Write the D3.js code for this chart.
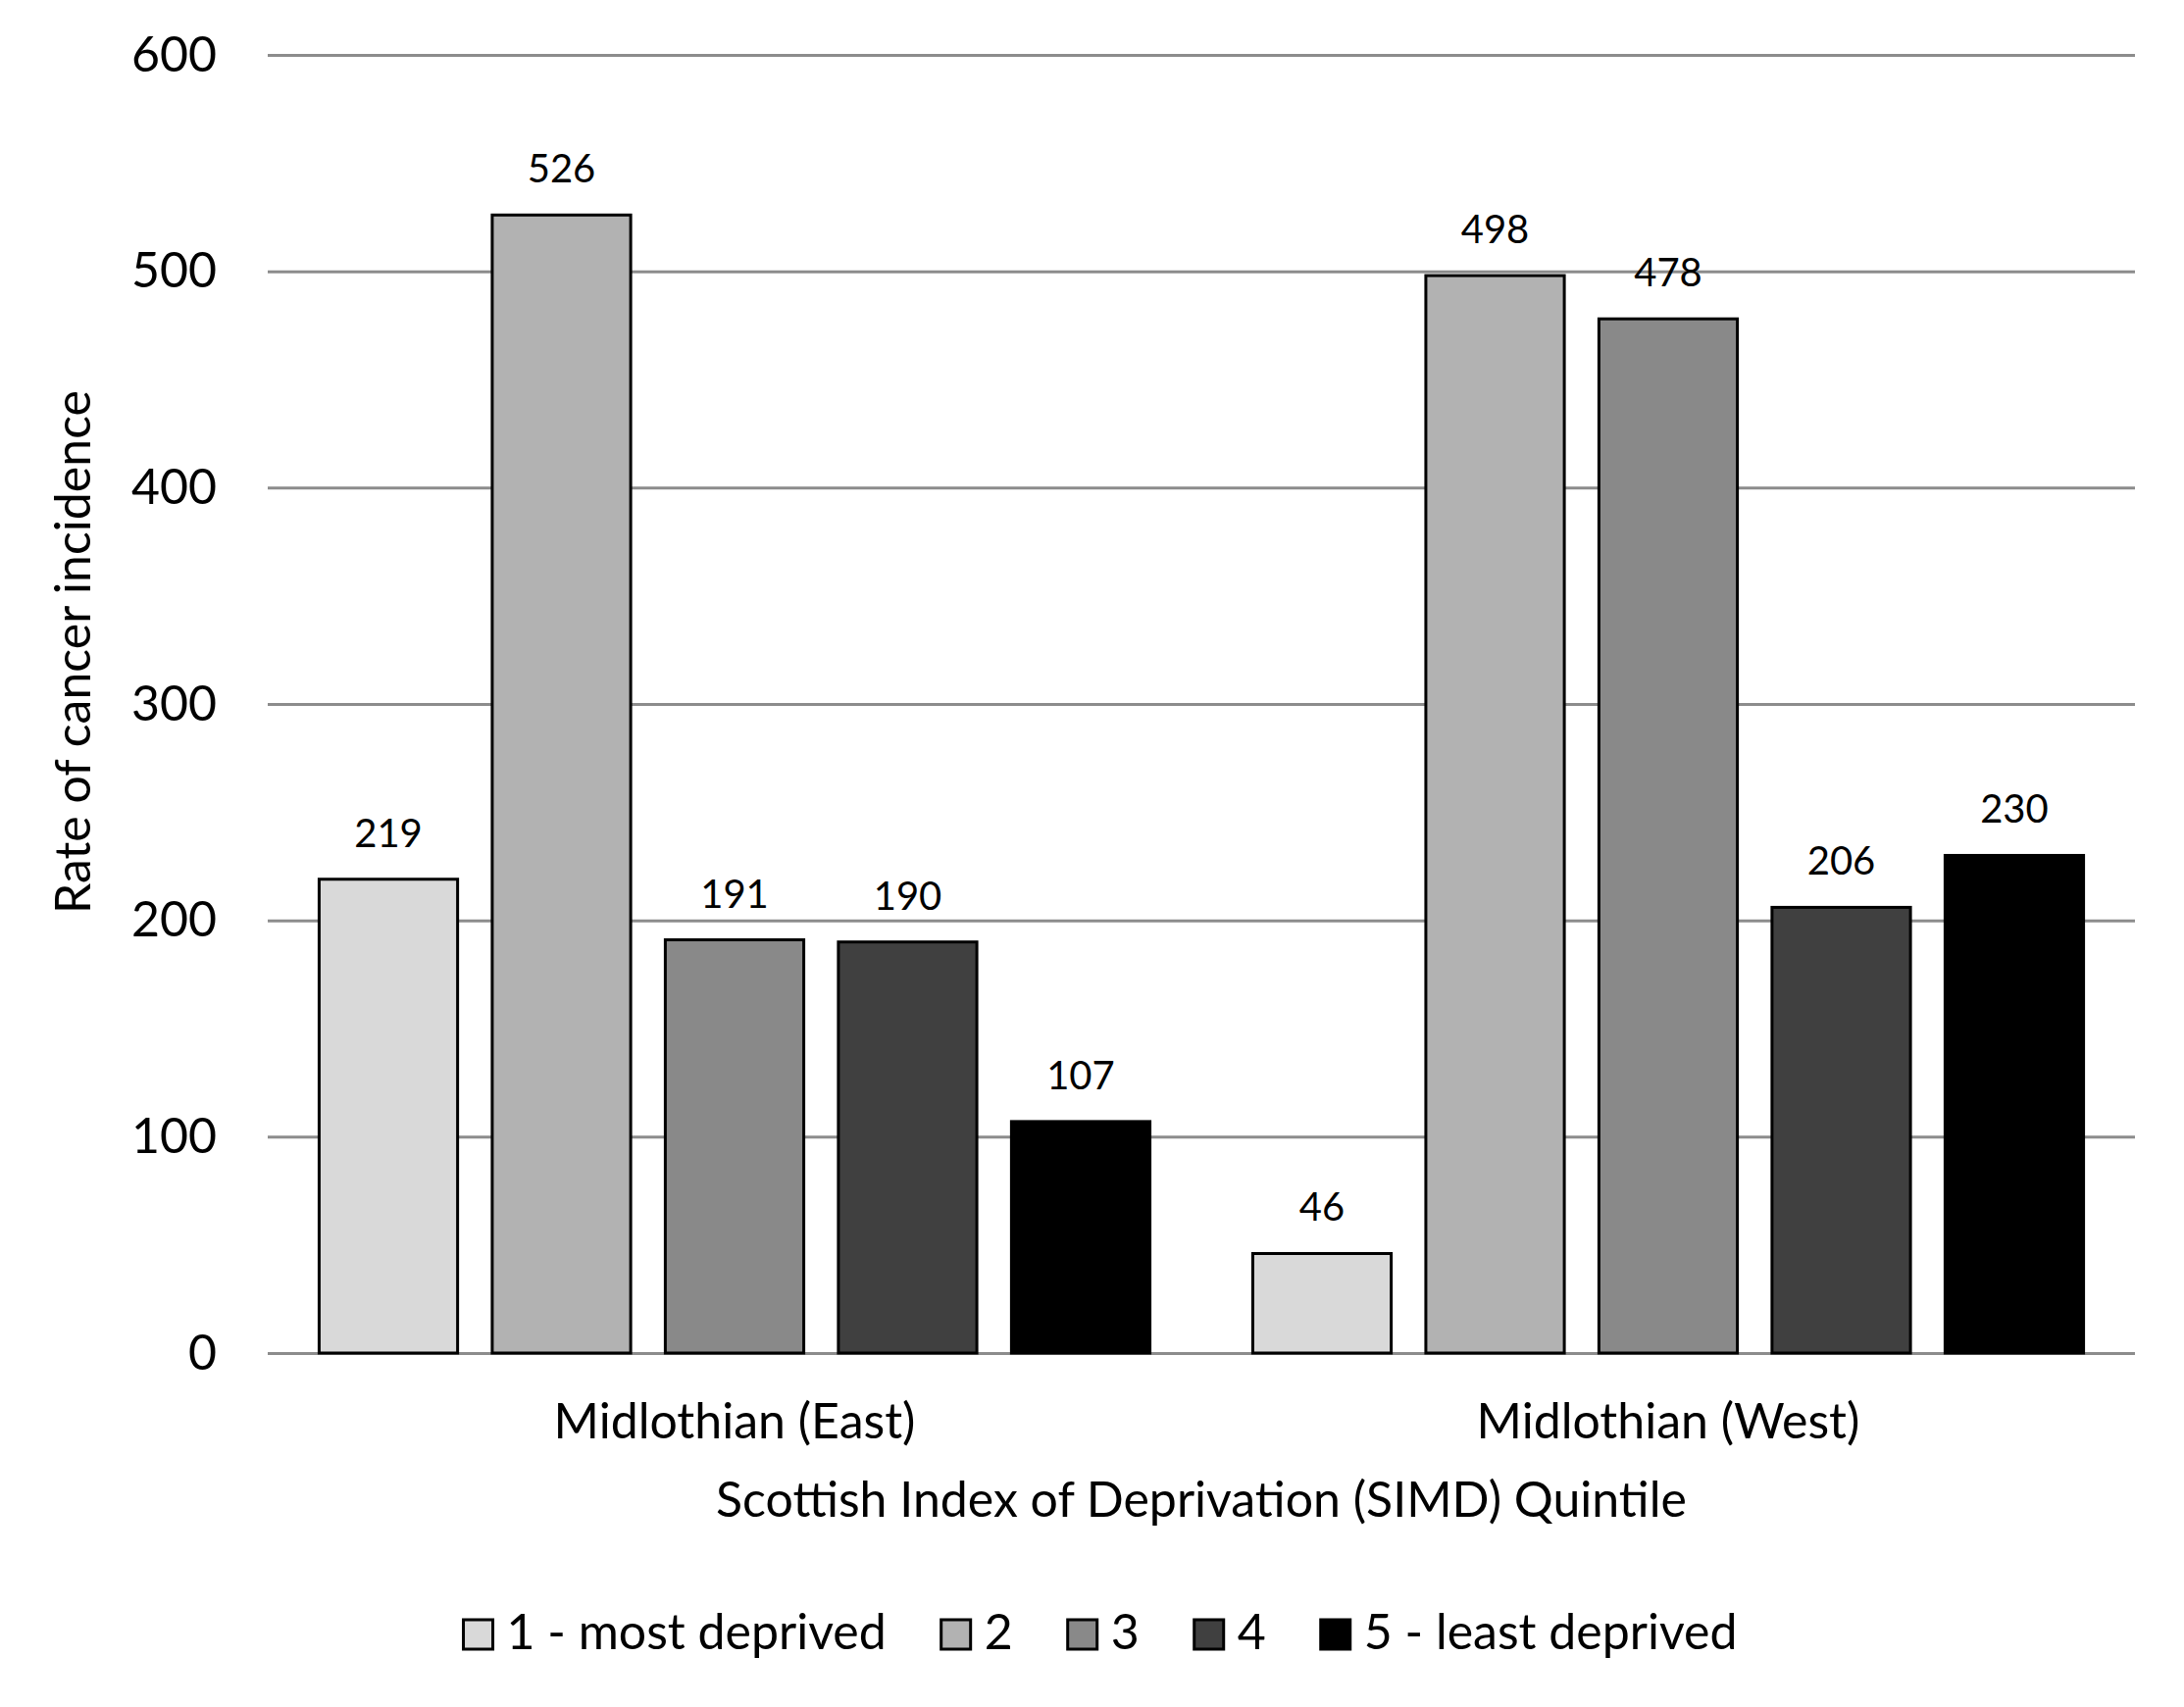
<!DOCTYPE html>
<html>
<head>
<meta charset="utf-8">
<script src="https://cdn.jsdelivr.net/npm/d3@7"></script>
<style>
  html, body { margin: 0; padding: 0; background: #fff; }
  text { font-family: Lato, "Open Sans", sans-serif; fill: #000; }
</style>
</head>
<body>
<script>
var categories = ["Midlothian (East)", "Midlothian (West)"];
var quintiles = ["1 - most deprived", "2", "3", "4", "5 - least deprived"];
var eastValues = [219, 526, 191, 190, 107];
var westValues = [46, 498, 478, 206, 230];
var yTicks = [0, 100, 200, 300, 400, 500, 600];
var barColors = ["#d9d9d9", "#b2b2b2", "#898989", "#404040", "#000000"];

var width = 2227, height = 1741;
var plotLeft = 273, plotRight = 2177, plotTop = 56, plotBottom = 1380;

var svg = d3.select("body").append("svg")
    .attr("width", width)
    .attr("height", height);

var y = d3.scaleLinear().domain([0, 600]).range([plotBottom, plotTop]);

var x0 = d3.scaleBand().domain(categories).range([plotLeft, plotRight]);
var x1 = d3.scaleBand().domain(quintiles)
    .range([0, x0.bandwidth()])
    .paddingInner(0.2)
    .paddingOuter(0.297);

var color = d3.scaleOrdinal().domain(quintiles).range(barColors);

// сетка и подписи оси Y
var yAxis = svg.append("g")
    .attr("transform", "translate(" + plotLeft + ",0)")
    .call(d3.axisLeft(y).tickValues(yTicks).tickSize(-(plotRight - plotLeft)).tickPadding(52));
yAxis.select(".domain").remove();
yAxis.selectAll(".tick line").attr("stroke", "#8c8c8c").attr("stroke-width", 3);
yAxis.selectAll(".tick text")
    .attr("font-size", 50)
    .attr("font-family", "Lato, sans-serif")
    .attr("fill", "#000");

var rows = [eastValues, westValues];

var groups = svg.selectAll(".grp")
    .data(categories)
  .enter().append("g")
    .attr("class", "grp")
    .attr("transform", function (d) { return "translate(" + x0(d) + ",0)"; });

groups.selectAll("rect")
    .data(function (d, i) {
        return quintiles.map(function (q, j) { return { q: q, v: rows[i][j] }; });
    })
  .enter().append("rect")
    .attr("x", function (d) { return x1(d.q); })
    .attr("y", function (d) { return y(d.v); })
    .attr("width", x1.bandwidth())
    .attr("height", function (d) { return y(0) - y(d.v); })
    .attr("fill", function (d) { return color(d.q); })
    .attr("stroke", "#000")
    .attr("stroke-width", 3);

groups.selectAll(".lbl")
    .data(function (d, i) {
        return quintiles.map(function (q, j) { return { q: q, v: rows[i][j] }; });
    })
  .enter().append("text")
    .attr("class", "lbl")
    .attr("x", function (d) { return x1(d.q) + x1.bandwidth() / 2; })
    .attr("y", function (d) { return y(d.v) - 33; })
    .attr("text-anchor", "middle")
    .attr("font-size", 40)
    .text(function (d) { return d.v; });

// подписи категорий
svg.selectAll(".cat")
    .data(categories)
  .enter().append("text")
    .attr("class", "cat")
    .attr("x", function (d) { return x0(d) + x0.bandwidth() / 2; })
    .attr("y", 1467)
    .attr("text-anchor", "middle")
    .attr("font-size", 50)
    .text(function (d) { return d; });

svg.append("text")
    .attr("x", (plotLeft + plotRight) / 2)
    .attr("y", 1547)
    .attr("text-anchor", "middle")
    .attr("font-size", 50)
    .text("Scottish Index of Deprivation (SIMD) Quintile");

svg.append("text")
    .attr("transform", "translate(92,665) rotate(-90)")
    .attr("text-anchor", "middle")
    .attr("font-size", 50)
    .text("Rate of cancer incidence");

// легенда
var legend = svg.append("g");
var lx = 0;
quintiles.forEach(function (q, i) {
    var g = legend.append("g").attr("transform", "translate(" + lx + ",0)");
    g.append("rect")
        .attr("x", 0).attr("y", -30)
        .attr("width", 30).attr("height", 30)
        .attr("fill", color(q))
        .attr("stroke", "#000").attr("stroke-width", 3);
    var t = g.append("text")
        .attr("x", 44).attr("y", 0)
        .attr("font-size", 50)
        .text(q);
    lx += 44 + t.node().getComputedTextLength() + (i < quintiles.length - 1 ? 56 : 0);
});
legend.attr("transform", "translate(" + (1122 - lx / 2) + ",1682)");
</script>
</body>
</html>
